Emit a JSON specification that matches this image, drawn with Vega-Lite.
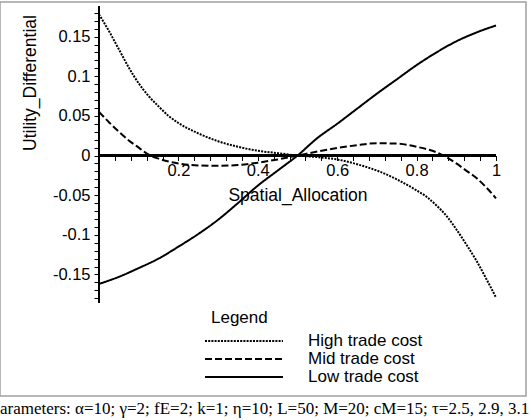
{
  "$schema": "https://vega.github.io/schema/vega-lite/v6.json",
  "width": 526,
  "height": 394,
  "autosize": {"type": "none"},
  "padding": {"left": 0, "top": 2, "right": 5, "bottom": 24},
  "background": "white",
  "config": {
    "view": {"stroke": "#a0a0a0", "strokeWidth": 1.5},
    "axis": {
      "grid": false,
      "domain": false,
      "labelFont": "Liberation Sans",
      "labelFontSize": 16.5,
      "labelColor": "black",
      "titleFont": "Liberation Sans",
      "titleFontSize": 17.5,
      "titleFontWeight": "normal",
      "titleColor": "black",
      "tickColor": "black",
      "tickWidth": 1,
      "tickSize": 5
    }
  },
  "title": {
    "text": "arameters: α=10; γ=2; fE=2; k=1; η=10; L=50; M=20; cM=15; τ=2.5, 2.9, 3.1",
    "orient": "bottom",
    "anchor": "start",
    "frame": "group",
    "offset": 18,
    "baseline": "alphabetic",
    "font": "Liberation Serif",
    "fontSize": 17,
    "fontWeight": "normal",
    "color": "black"
  },
  "resolve": {"axis": {"x": "independent", "y": "independent"}},
  "data": {
    "values": [
      {"x": 0, "y": 0.178, "series": "High trade cost"},
      {"x": 0.025, "y": 0.157, "series": "High trade cost"},
      {"x": 0.05, "y": 0.134, "series": "High trade cost"},
      {"x": 0.075, "y": 0.111, "series": "High trade cost"},
      {"x": 0.1, "y": 0.091, "series": "High trade cost"},
      {"x": 0.125, "y": 0.075, "series": "High trade cost"},
      {"x": 0.15, "y": 0.062, "series": "High trade cost"},
      {"x": 0.175, "y": 0.05, "series": "High trade cost"},
      {"x": 0.2, "y": 0.041, "series": "High trade cost"},
      {"x": 0.25, "y": 0.028, "series": "High trade cost"},
      {"x": 0.3, "y": 0.018, "series": "High trade cost"},
      {"x": 0.35, "y": 0.011, "series": "High trade cost"},
      {"x": 0.4, "y": 0.006, "series": "High trade cost"},
      {"x": 0.45, "y": 0.003, "series": "High trade cost"},
      {"x": 0.5, "y": 0, "series": "High trade cost"},
      {"x": 0.55, "y": -0.002, "series": "High trade cost"},
      {"x": 0.6, "y": -0.005, "series": "High trade cost"},
      {"x": 0.65, "y": -0.011, "series": "High trade cost"},
      {"x": 0.7, "y": -0.019, "series": "High trade cost"},
      {"x": 0.75, "y": -0.03, "series": "High trade cost"},
      {"x": 0.8, "y": -0.044, "series": "High trade cost"},
      {"x": 0.825, "y": -0.052, "series": "High trade cost"},
      {"x": 0.85, "y": -0.063, "series": "High trade cost"},
      {"x": 0.875, "y": -0.076, "series": "High trade cost"},
      {"x": 0.9, "y": -0.093, "series": "High trade cost"},
      {"x": 0.925, "y": -0.112, "series": "High trade cost"},
      {"x": 0.95, "y": -0.132, "series": "High trade cost"},
      {"x": 0.975, "y": -0.155, "series": "High trade cost"},
      {"x": 1, "y": -0.179, "series": "High trade cost"},
      {"x": 0, "y": 0.055, "series": "Mid trade cost"},
      {"x": 0.025, "y": 0.042, "series": "Mid trade cost"},
      {"x": 0.05, "y": 0.03, "series": "Mid trade cost"},
      {"x": 0.075, "y": 0.019, "series": "Mid trade cost"},
      {"x": 0.1, "y": 0.01, "series": "Mid trade cost"},
      {"x": 0.125, "y": 0.001, "series": "Mid trade cost"},
      {"x": 0.15, "y": -0.004, "series": "Mid trade cost"},
      {"x": 0.2, "y": -0.01, "series": "Mid trade cost"},
      {"x": 0.25, "y": -0.0125, "series": "Mid trade cost"},
      {"x": 0.3, "y": -0.013, "series": "Mid trade cost"},
      {"x": 0.35, "y": -0.012, "series": "Mid trade cost"},
      {"x": 0.4, "y": -0.009, "series": "Mid trade cost"},
      {"x": 0.45, "y": -0.005, "series": "Mid trade cost"},
      {"x": 0.5, "y": 0, "series": "Mid trade cost"},
      {"x": 0.55, "y": 0.005, "series": "Mid trade cost"},
      {"x": 0.6, "y": 0.0095, "series": "Mid trade cost"},
      {"x": 0.65, "y": 0.013, "series": "Mid trade cost"},
      {"x": 0.7, "y": 0.0155, "series": "Mid trade cost"},
      {"x": 0.75, "y": 0.015, "series": "Mid trade cost"},
      {"x": 0.8, "y": 0.011, "series": "Mid trade cost"},
      {"x": 0.85, "y": 0.004, "series": "Mid trade cost"},
      {"x": 0.875, "y": -0.002, "series": "Mid trade cost"},
      {"x": 0.9, "y": -0.01, "series": "Mid trade cost"},
      {"x": 0.925, "y": -0.019, "series": "Mid trade cost"},
      {"x": 0.95, "y": -0.028, "series": "Mid trade cost"},
      {"x": 0.975, "y": -0.04, "series": "Mid trade cost"},
      {"x": 1, "y": -0.054, "series": "Mid trade cost"},
      {"x": 0, "y": -0.162, "series": "Low trade cost"},
      {"x": 0.05, "y": -0.153, "series": "Low trade cost"},
      {"x": 0.1, "y": -0.142, "series": "Low trade cost"},
      {"x": 0.15, "y": -0.13, "series": "Low trade cost"},
      {"x": 0.2, "y": -0.115, "series": "Low trade cost"},
      {"x": 0.25, "y": -0.099, "series": "Low trade cost"},
      {"x": 0.3, "y": -0.081, "series": "Low trade cost"},
      {"x": 0.35, "y": -0.06, "series": "Low trade cost"},
      {"x": 0.4, "y": -0.038, "series": "Low trade cost"},
      {"x": 0.45, "y": -0.019, "series": "Low trade cost"},
      {"x": 0.5, "y": 0, "series": "Low trade cost"},
      {"x": 0.55, "y": 0.022, "series": "Low trade cost"},
      {"x": 0.6, "y": 0.04, "series": "Low trade cost"},
      {"x": 0.65, "y": 0.059, "series": "Low trade cost"},
      {"x": 0.7, "y": 0.078, "series": "Low trade cost"},
      {"x": 0.75, "y": 0.096, "series": "Low trade cost"},
      {"x": 0.8, "y": 0.114, "series": "Low trade cost"},
      {"x": 0.85, "y": 0.13, "series": "Low trade cost"},
      {"x": 0.9, "y": 0.144, "series": "Low trade cost"},
      {"x": 0.95, "y": 0.155, "series": "Low trade cost"},
      {"x": 1, "y": 0.164, "series": "Low trade cost"}
    ]
  },
  "layer": [
    {
      "mark": {"type": "line", "stroke": "black", "strokeWidth": 2, "interpolate": "monotone"},
      "encoding": {
        "x": {
          "field": "x",
          "type": "quantitative",
          "scale": {"domain": [-0.2494, 1.0756], "nice": false, "zero": false},
          "axis": {
            "title": "Spatial_Allocation",
            "orient": "bottom",
            "offset": -240.5,
            "values": [0.04, 0.08, 0.12, 0.16, 0.2, 0.24, 0.28, 0.32, 0.36, 0.4, 0.44, 0.48, 0.52, 0.56, 0.6, 0.64, 0.68, 0.72, 0.76, 0.8, 0.84, 0.88, 0.92, 0.96, 1],
            "labelExpr": "abs(datum.value*5 - round(datum.value*5)) < 0.001 ? '' + round(datum.value*10)/10 : ''",
            "labelOverlap": false,
            "labelFlush": false,
            "labelPadding": 1.5,
            "tickSize": 5,
            "titleX": 297.5,
            "titleY": 44.5,
            "titleAlign": "center",
            "titleBaseline": "alphabetic",
            "encode": {
              "ticks": {"update": {"y2": {"signal": "abs(datum.value*5 - round(datum.value*5)) < 0.001 ? 5 : 3"}}}
            }
          }
        },
        "y": {
          "field": "y",
          "type": "quantitative",
          "scale": {"domain": [-0.3033, 0.1936], "nice": false, "zero": false},
          "axis": {
            "title": "Utility_Differential",
            "orient": "left",
            "offset": -99,
            "values": [-0.18, -0.17, -0.16, -0.15, -0.14, -0.13, -0.12, -0.11, -0.1, -0.09, -0.08, -0.07, -0.06, -0.05, -0.04, -0.03, -0.02, -0.01, 0, 0.01, 0.02, 0.03, 0.04, 0.05, 0.06, 0.07, 0.08, 0.09, 0.1, 0.11, 0.12, 0.13, 0.14, 0.15, 0.16, 0.17, 0.18],
            "labelExpr": "abs(datum.value*20 - round(datum.value*20)) < 0.001 ? '' + round(datum.value*100)/100 : ''",
            "labelOverlap": false,
            "labelPadding": 4,
            "titleX": -63.5,
            "titleY": 80.5,
            "titleAngle": 270,
            "titleAlign": "center",
            "titleBaseline": "alphabetic",
            "encode": {
              "ticks": {"update": {"x2": {"signal": "abs(datum.value*20 - round(datum.value*20)) < 0.001 ? -5 : -3"}}}
            }
          }
        },
        "strokeDash": {
          "field": "series",
          "type": "nominal",
          "scale": {
            "domain": ["High trade cost", "Mid trade cost", "Low trade cost"],
            "range": [[2, 1.2], [7, 3], [1, 0]]
          },
          "legend": {
            "orient": "none",
            "legendX": 204,
            "legendY": 308,
            "title": "Legend",
            "symbolType": "stroke",
            "symbolSize": 6084,
            "symbolStrokeWidth": 2,
            "symbolStrokeColor": "black",
            "labelFont": "Liberation Sans",
            "labelFontSize": 17,
            "labelColor": "black",
            "titleFont": "Liberation Sans",
            "titleFontSize": 17,
            "titleFontWeight": "normal",
            "titleColor": "black",
            "titlePadding": 5,
            "labelOffset": 24,
            "clipHeight": 18,
            "rowPadding": 0,
            "padding": 0,
            "encode": {
              "title": {"update": {"dx": {"value": 7}}},
              "symbols": {
                "enter": {"strokeDash": {"signal": "datum.label == 'Mid trade cost' ? [8, 4, 3, 4] : (datum.label == 'High trade cost' ? [2, 1] : [1, 0])"}},
                "update": {"strokeDash": {"signal": "datum.label == 'Mid trade cost' ? [8, 4, 3, 4] : (datum.label == 'High trade cost' ? [2, 1] : [1, 0])"}}
              }
            }
          }
        }
      }
    },
    {
      "mark": {"type": "rule", "stroke": "black", "strokeWidth": 1.5},
      "encoding": {
        "x": {"datum": 0, "type": "quantitative", "axis": null},
        "y": {"datum": -0.186, "type": "quantitative", "axis": null},
        "y2": {"datum": 0.188}
      }
    },
    {
      "mark": {"type": "rule", "stroke": "black", "strokeWidth": 1.5},
      "encoding": {
        "y": {"datum": 0, "type": "quantitative", "axis": null},
        "x": {"datum": 0, "type": "quantitative", "axis": null},
        "x2": {"datum": 1}
      }
    }
  ]
}
